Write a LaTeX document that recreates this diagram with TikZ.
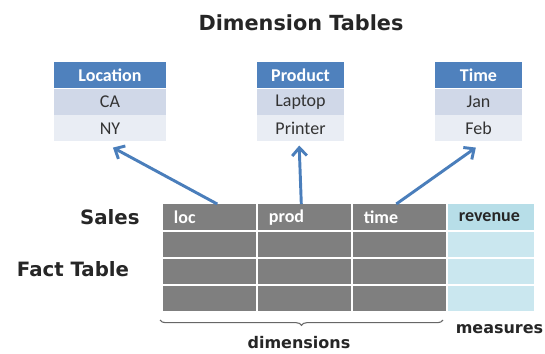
\documentclass[tikz,border=0pt]{standalone}
\usepackage{fontspec}
\setmainfont{DejaVu Sans}
\newfontfamily\cellfont{Carlito}
\usetikzlibrary{arrows.meta,positioning,decorations.pathreplacing}
\definecolor{dimblue}{RGB}{79,129,189}
\definecolor{rowdark}{RGB}{208,216,232}
\definecolor{rowlight}{RGB}{233,237,244}
\definecolor{factgray}{RGB}{127,127,127}
\definecolor{measblue}{RGB}{183,222,232}
\definecolor{measlight}{RGB}{202,231,239}
\definecolor{linkblue}{RGB}{74,126,187}
\definecolor{labelgray}{RGB}{38,38,38}

\begin{document}
\begin{tikzpicture}[x=0.75pt,y=-0.75pt,
    dimhead/.style={fill=dimblue, text=white, inner sep=0pt, minimum height=19.5pt,
        font=\cellfont\bfseries\fontsize{13.5}{15}\selectfont},
    dimcell/.style={text=black!80, inner sep=0pt, minimum height=19.5pt,
        font=\cellfont\fontsize{13.5}{15}\selectfont},
    facthead/.style={fill=factgray, text=white, anchor=north west, inner xsep=8pt, inner ysep=0pt,
        minimum height=19.5pt, text width=53.75pt, align=left,
        font=\cellfont\bfseries\fontsize{13.5}{15}\selectfont},
    factcell/.style={fill=factgray, anchor=north west, inner sep=0pt,
        minimum width=69.75pt, minimum height=18.75pt},
    meascell/.style={fill=measlight, anchor=north west, inner sep=0pt,
        minimum width=64.5pt, minimum height=18.75pt},
    biglabel/.style={text=labelgray, font=\bfseries\fontsize{14.8}{17}\selectfont},
    smalllabel/.style={text=labelgray, font=\bfseries\fontsize{12}{14}\selectfont},
    link/.style={linkblue, line width=2.2pt, -{Straight Barb[length=6pt,width=11pt]}}]
    \useasboundingbox (0,0) rectangle (545,353);

    % Title
    \node[text=labelgray, font=\bfseries\fontsize{15.6}{18}\selectfont] (title) at (301,23) {Dimension Tables};

    % Dimension tables
    \node[dimhead, minimum width=84pt, anchor=north] (location) at (110,62) {Location};
    \node[dimcell, fill=rowdark, minimum width=84pt, below=0pt of location] (ca) {CA};
    \node[dimcell, fill=rowlight, minimum width=84pt, below=0pt of ca] (ny) {NY};

    \node[dimhead, minimum width=65.25pt, anchor=north] (product) at (300.5,62) {Product};
    \node[dimcell, fill=rowdark, minimum width=65.25pt, below=0pt of product] (laptop) {Laptop};
    \node[dimcell, fill=rowlight, minimum width=65.25pt, below=0pt of laptop] (printer) {Printer};

    \node[dimhead, minimum width=65.25pt, anchor=north] (time) at (478.5,62) {Time};
    \node[dimcell, fill=rowdark, minimum width=65.25pt, below=0pt of time] (jan) {Jan};
    \node[dimcell, fill=rowlight, minimum width=65.25pt, below=0pt of jan] (feb) {Feb};

    % Fact table header
    \node[facthead] (fkloc) at (163,204) {loc};
    \node[facthead] (fkprod) at (258,204) {prod};
    \node[facthead] (fktime) at (353,204) {time};
    \node[facthead, fill=measblue, text=labelgray, text width=48.5pt] (revenue) at (448,204) {revenue};

    % Fact table rows
    \foreach \r in {0,1,2} {
        \foreach \c in {0,1,2}
            \node[factcell] (f\r\c) at ({163+95*\c},{232+27*\r}) {};
        \node[meascell] (m\r) at (448,{232+27*\r}) {};
    }

    % Foreign keys to dimension tables
    \draw[link] ([xshift=5.6pt]fkloc.north) -- ([xshift=2.2pt,yshift=-4.5pt]ny.south);
    \draw[link] ([xshift=-2.6pt]fkprod.north) -- ([xshift=-1pt,yshift=-3pt]printer.south);
    \draw[link] ([xshift=-2.6pt]fktime.north) -- ([xshift=-2pt,yshift=-4.5pt]feb.south);

    % Labels
    \node[biglabel, left=14pt of fkloc] (sales) {Sales};
    \node[biglabel] (facttable) at (73,269) {Fact Table};

    % Brace under the key columns
    \coordinate (bl) at (160,320);
    \coordinate (br) at (443,320);
    \draw[black!60, line width=0.8pt, decorate, decoration={brace, mirror, amplitude=4pt}] (bl) -- (br);
    \node[smalllabel] (dimensions) at (299,343) {dimensions};
    \node[smalllabel] (measures) at (499.5,329) {measures};
\end{tikzpicture}
\end{document}
